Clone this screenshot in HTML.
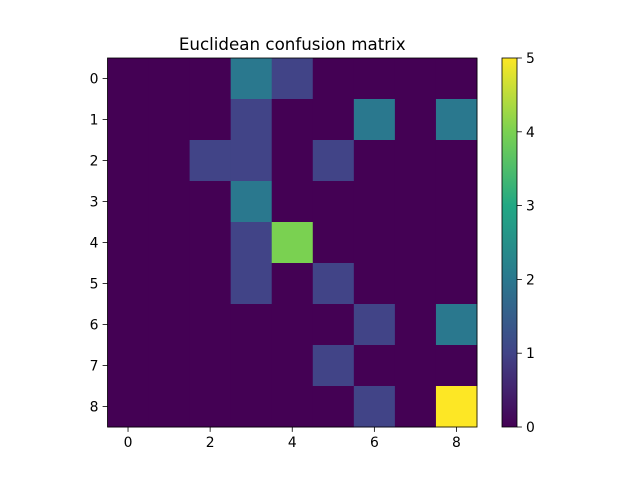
<!DOCTYPE html>
<html><head><meta charset="utf-8"><style>
body{margin:0;background:#fff;font-family:"Liberation Sans","DejaVu Sans",sans-serif;}
</style></head><body>
<svg id="chart" width="640" height="480" xmlns="http://www.w3.org/2000/svg" font-family="DejaVu Sans, Liberation Sans, sans-serif"></svg>
<script>
const rowLabels = [0,1,2,3,4,5,6,7,8];
const colLabels = [0,1,2,3,4,5,6,7,8];
const matrixValues = [
 [0,0,0,2,1,0,0,0,0],
 [0,0,0,1,0,0,2,0,2],
 [0,0,1,1,0,1,0,0,0],
 [0,0,0,2,0,0,0,0,0],
 [0,0,0,1,4,0,0,0,0],
 [0,0,0,1,0,1,0,0,0],
 [0,0,0,0,0,0,1,0,2],
 [0,0,0,0,0,1,0,0,0],
 [0,0,0,0,0,0,1,0,5]
];
const xTicks = [0,2,4,6,8];
const yTicks = [0,1,2,3,4,5,6,7,8];
const cbarTicks = [0,1,2,3,4,5];
const vmin = 0, vmax = 5;

const svg = document.getElementById('chart');
const NS = 'http://www.w3.org/2000/svg';
const L=107.5, R=477, T=58, B=427;
const n = colLabels.length;
const cw=(R-L)/n, ch=(B-T)/rowLabels.length;
const xs = c => L + cw*(c+0.5);
const ys = r => T + ch*(r+0.5);
const viridisStops=[[68,1,84],[65,68,135],[42,120,142],[34,168,132],[122,209,81],[253,231,37]];
function viridis(t){t=Math.max(0,Math.min(1,t));const p=t*5,i=Math.min(4,Math.floor(p)),f=p-i;const a=viridisStops[i],b=viridisStops[i+1];return 'rgb('+a.map((v,k)=>Math.round(v+(b[k]-v)*f)).join(',')+')';}
function el(tag,attrs,parent){const e=document.createElementNS(NS,tag);for(const k in attrs)e.setAttribute(k,attrs[k]);(parent||svg).appendChild(e);return e;}

const cells = el('g',{});


matrixValues.forEach((row,r)=>row.forEach((v,c)=>{
  const rc=el('rect',{x:xs(c)-cw/2,y:ys(r)-ch/2,width:cw+0.5,height:ch+0.5,fill:viridis((v-vmin)/(vmax-vmin))},cells);
  
  
}));
const frame=el('rect',{x:L,y:T,width:R-L,height:B-T,fill:'none',stroke:'#000','stroke-width':0.8});



const FS=13.9;
xTicks.forEach(t=>{
  el('line',{x1:xs(t),x2:xs(t),y1:B,y2:B+4.9,stroke:'#000','stroke-width':0.8});
  const tx=el('text',{x:xs(t),y:B+20,'text-anchor':'middle','font-size':FS,fill:'#000'});
  tx.textContent=colLabels[t];
  
  
});
yTicks.forEach(t=>{
  el('line',{x1:L,x2:L-4.9,y1:ys(t),y2:ys(t),stroke:'#000','stroke-width':0.8});
  const tx=el('text',{x:L-9,y:ys(t)+5,'text-anchor':'end','font-size':FS,fill:'#000'});
  tx.textContent=rowLabels[t];
  
  
});

const title=el('text',{x:(L+R)/2,y:50,'text-anchor':'middle','font-size':16.7,fill:'#000'});
title.textContent='Euclidean confusion matrix';



// colorbar
const CL=502, CR=517, CT=58, CB=427;
const defs=el('defs',{});
const grad=el('linearGradient',{id:'vg',x1:0,y1:1,x2:0,y2:0},defs);
for(let i=0;i<=20;i++){el('stop',{offset:i/20,'stop-color':viridis(i/20)},grad);}
const cbar=el('rect',{x:CL,y:CT,width:CR-CL,height:CB-CT,fill:'url(#vg)',stroke:'#000','stroke-width':0.8});


const cy = v => CB - (v-vmin)/(vmax-vmin)*(CB-CT);
cbarTicks.forEach(t=>{
  el('line',{x1:CR,x2:CR+4.9,y1:cy(t),y2:cy(t),stroke:'#000','stroke-width':0.8});
  const tx=el('text',{x:CR+9,y:cy(t)+5,'font-size':FS,fill:'#000'});
  tx.textContent=t;
  
  
});
</script>
</body></html>
